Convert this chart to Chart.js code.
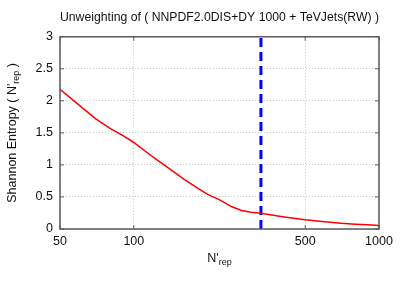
<!DOCTYPE html>
<html>
<head>
<meta charset="utf-8">
<script src="https://cdn.jsdelivr.net/npm/chart.js@4"></script>
<style>
  body { margin: 0; background: #fff; }
  #wrap { width: 401px; height: 281px; }
</style>
</head>
<body>
<div id="wrap"><canvas id="entropy-chart"></canvas></div>
<script>
// data
const nRep = [50, 60, 70, 80, 90, 100, 120, 140, 160, 180, 200, 225, 250, 275, 300, 330, 375, 425, 500, 600, 700, 800, 900, 1000];
const entropy = [2.18, 1.93, 1.72, 1.57, 1.46, 1.35, 1.12, 0.94, 0.78, 0.65, 0.54, 0.45, 0.35, 0.29, 0.26, 0.245, 0.21, 0.18, 0.145, 0.115, 0.09, 0.075, 0.065, 0.055];
const cutX = [330, 330];
const cutY = [0, 3];
const xTicks = [50, 100, 500, 1000];
const yTicks = [0, 0.5, 1, 1.5, 2, 2.5, 3];

const FONT = "'Liberation Sans', Arial, sans-serif";

// draws "main" text with a subscript part, centered at x,y
function drawSubText(ctx, parts, x, y) {
  let total = 0;
  parts.forEach(p => {
    ctx.font = (p.sub ? 9 : 12.5) + "px " + FONT;
    p.w = ctx.measureText(p.t).width;
    total += p.w;
  });
  let cx = x - total / 2;
  parts.forEach(p => {
    ctx.font = (p.sub ? 9 : 12.5) + "px " + FONT;
    ctx.fillText(p.t, cx, p.sub ? y + 4 : y);
    cx += p.w;
  });
}

const framePlugin = {
  id: 'frame',
  afterDraw(chart) {
    const { ctx, chartArea: a, scales } = chart;
    ctx.save();
    // box around the plot
    ctx.strokeStyle = '#5a5a5a';
    ctx.lineWidth = 1.5;
    ctx.strokeRect(a.left, a.top, a.right - a.left, a.bottom - a.top);
    // small inward tick marks
    ctx.lineWidth = 1;
    xTicks.forEach(v => {
      const px = scales.x.getPixelForValue(v);
      ctx.beginPath();
      ctx.moveTo(px, a.bottom); ctx.lineTo(px, a.bottom - 4);
      ctx.moveTo(px, a.top); ctx.lineTo(px, a.top + 4);
      ctx.stroke();
    });
    yTicks.forEach(v => {
      const py = scales.y.getPixelForValue(v);
      ctx.beginPath();
      ctx.moveTo(a.left, py); ctx.lineTo(a.left + 4, py);
      ctx.moveTo(a.right, py); ctx.lineTo(a.right - 4, py);
      ctx.stroke();
    });
    // axis titles with subscripts
    ctx.fillStyle = '#111';
    ctx.textBaseline = 'middle';
    ctx.textAlign = 'left';
    drawSubText(ctx, [{ t: "N'" }, { t: "rep", sub: true }], (a.left + a.right) / 2, 259);
    ctx.translate(13, (a.top + a.bottom) / 2);
    ctx.rotate(-Math.PI / 2);
    drawSubText(ctx, [{ t: "Shannon Entropy ( N'" }, { t: "rep", sub: true }, { t: " )" }], 0, 0);
    ctx.restore();
  }
};

const ctxEntropy = document.getElementById('entropy-chart').getContext('2d');

new Chart(ctxEntropy, {
  type: 'line',
  data: {
    datasets: [{
      label: 'Entropy',
      data: nRep.map((n, i) => ({ x: n, y: entropy[i] })),
      borderColor: '#ff0000',
      borderWidth: 1.5,
      pointRadius: 0,
      tension: 0,
      fill: false
    }, {
      label: 'Cut',
      data: cutX.map((n, i) => ({ x: n, y: cutY[i] })),
      borderColor: '#0000ff',
      borderWidth: 3,
      borderDash: [9, 5],
      pointRadius: 0,
      fill: false
    }]
  },
  options: {
    responsive: true,
    maintainAspectRatio: false,
    animation: false,
    layout: { padding: { top: 0, right: 22, left: 0, bottom: 0 } },
    plugins: {
      legend: { display: false },
      tooltip: { enabled: false },
      title: {
        display: true,
        fullSize: false,
        text: 'Unweighting of ( NNPDF2.0DIS+DY 1000 + TeVJets(RW) )',
        color: '#111',
        font: { family: FONT, size: 12.3, weight: 'normal' },
        padding: { top: 10, bottom: 12 }
      }
    },
    scales: {
      x: {
        type: 'logarithmic',
        min: 50,
        max: 1000,
        afterBuildTicks: scale => { scale.ticks = xTicks.map(v => ({ value: v })); },
        afterFit: scale => { scale.height = 52; },
        ticks: {
          color: '#111',
          font: { family: FONT, size: 12.5 },
          padding: 5,
          maxRotation: 0,
          autoSkip: false,
          callback: v => String(v)
        },
        grid: { color: '#c8c8c8', lineWidth: 1, drawTicks: false },
        border: { display: false, dash: [1, 2] }
      },
      y: {
        min: 0,
        max: 3,
        afterBuildTicks: scale => { scale.ticks = yTicks.map(v => ({ value: v })); },
        afterFit: scale => { scale.width = 60; },
        ticks: {
          color: '#111',
          font: { family: FONT, size: 12.5 },
          padding: 7,
          callback: v => String(v)
        },
        grid: { color: '#c8c8c8', lineWidth: 1, drawTicks: false },
        border: { display: false, dash: [1, 2] }
      }
    }
  },
  plugins: [framePlugin]
});
</script>
</body>
</html>
